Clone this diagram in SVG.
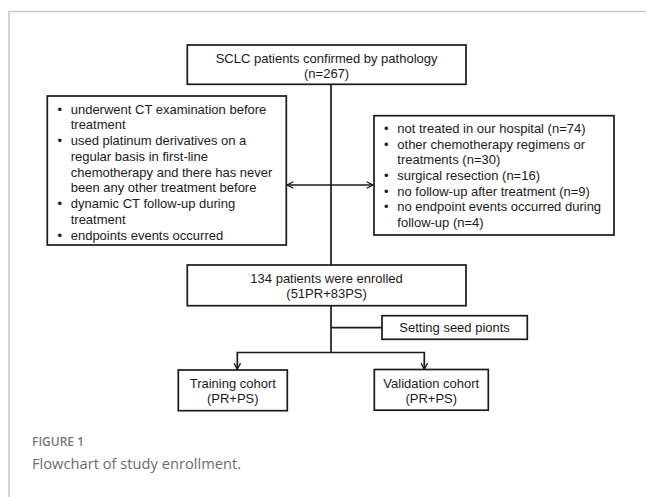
<svg xmlns="http://www.w3.org/2000/svg" width="646" height="497" viewBox="0 0 646 497">
<defs>
<style>
.box{fill:#fff;stroke:#1a1a1a;stroke-width:1.7}
.t{font-family:"Liberation Sans",Arial,sans-serif;font-size:13px;fill:#1a1a1a}
.c{text-anchor:middle}
.ln{fill:none;stroke:#1a1a1a;stroke-width:1.7}
.frame{fill:none;stroke:#c8c8c8;stroke-width:1.5}
</style>
<marker id="ah" viewBox="0 0 10 10" refX="9" refY="5" markerWidth="8" markerHeight="8" markerUnits="userSpaceOnUse" orient="auto-start-reverse">
<path d="M1,1 L9,5 L1,9" fill="none" stroke="#1a1a1a" stroke-width="1.6"/>
</marker>
</defs>
<rect width="646" height="497" fill="#fff"/>
<path class="frame" d="M9,497 V11.5 H646"/>

<g id="connectors">
<line class="ln" x1="331" y1="84" x2="331" y2="265"/>
<line class="ln" x1="287" y1="185" x2="373" y2="185" marker-start="url(#ah)" marker-end="url(#ah)"/>
<line class="ln" x1="331" y1="305.5" x2="331" y2="352.5"/>
<line class="ln" x1="331" y1="327.7" x2="382" y2="327.7"/>
<path class="ln" d="M237.3,369.5 V352.5 H424.3 V369.5" marker-start="url(#ah)" marker-end="url(#ah)"/>
</g>

<g id="n-sclc">
<rect class="box" x="187.3" y="45" width="278.7" height="39.3"/>
<text class="t c" x="326.6" y="63">SCLC patients confirmed by pathology</text>
<text class="t c" x="326.6" y="78">(n=267)</text>
</g>

<g id="n-inclusion">
<rect class="box" x="47.3" y="96" width="239" height="149"/>
<g class="t">
<text x="57.5" y="113.5">•</text><text x="70.7" y="113.5">underwent CT examination before</text>
<text x="70.7" y="129.3">treatment</text>
<text x="57.5" y="145">•</text><text x="70.7" y="145">used platinum derivatives on a</text>
<text x="70.7" y="160.8">regular basis in first-line</text>
<text x="70.7" y="176.5">chemotherapy and there has never</text>
<text x="70.7" y="192.3">been any other treatment before</text>
<text x="57.5" y="208">•</text><text x="70.7" y="208">dynamic CT follow-up during</text>
<text x="70.7" y="223.8">treatment</text>
<text x="57.5" y="239.5">•</text><text x="70.7" y="239.5">endpoints events occurred</text>
</g>
</g>

<g id="n-exclusion">
<rect class="box" x="374" y="115.7" width="240" height="119.3"/>
<g class="t">
<text x="384" y="133">•</text><text x="397.3" y="133">not treated in our hospital (n=74)</text>
<text x="384" y="148.7">•</text><text x="397.3" y="148.7">other chemotherapy regimens or</text>
<text x="397.3" y="164.4">treatments (n=30)</text>
<text x="384" y="180">•</text><text x="397.3" y="180">surgical resection (n=16)</text>
<text x="384" y="195.7">•</text><text x="397.3" y="195.7">no follow-up after treatment (n=9)</text>
<text x="384" y="211.4">•</text><text x="397.3" y="211.4">no endpoint events occurred during</text>
<text x="397.3" y="227">follow-up (n=4)</text>
</g>
</g>

<g id="n-enrolled">
<rect class="box" x="187.3" y="265" width="278.7" height="40.7"/>
<text class="t c" x="326.6" y="283">134 patients were enrolled</text>
<text class="t c" x="326.6" y="297.5">(51PR+83PS)</text>
</g>

<g id="n-seed">
<rect class="box" x="382" y="315.7" width="145.3" height="23.6"/>
<text class="t c" x="454.6" y="332">Setting seed pionts</text>
</g>

<g id="n-training">
<rect class="box" x="178.3" y="370" width="109" height="40.7"/>
<text class="t c" x="232.8" y="388">Training cohort</text>
<text class="t c" x="232.8" y="403">(PR+PS)</text>
</g>

<g id="n-validation">
<rect class="box" x="374.3" y="369.5" width="114" height="40.7"/>
<text class="t c" x="431.3" y="388">Validation cohort</text>
<text class="t c" x="431.3" y="403">(PR+PS)</text>
</g>

<text x="32" y="445.5" font-family="'Open Sans',sans-serif" font-size="12" font-weight="600" fill="#777">FIGURE 1</text>
<text x="32" y="468.5" font-family="'Open Sans',sans-serif" font-size="14.7" fill="#6b6b6b">Flowchart of study enrollment.</text>
</svg>
